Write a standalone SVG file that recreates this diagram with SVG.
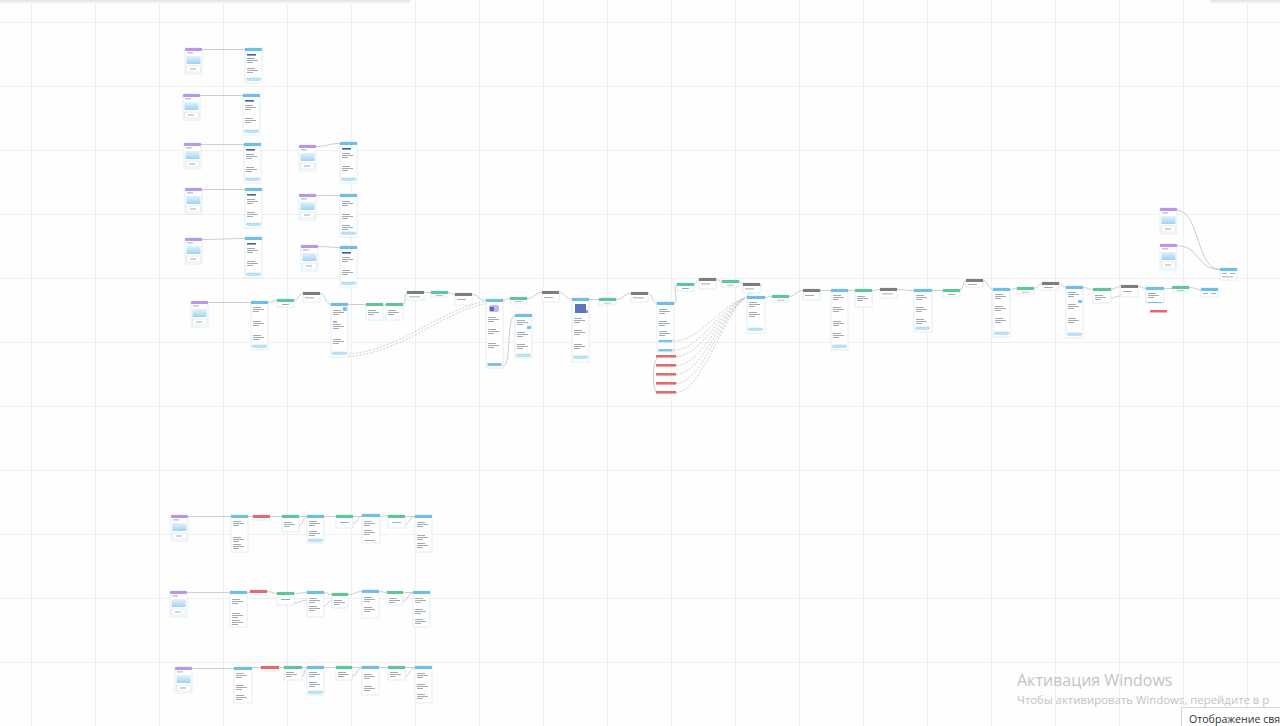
<svg xmlns="http://www.w3.org/2000/svg" width="1280" height="726" viewBox="0 0 1280 726">
<style>
.bd{fill:#fff;stroke:#cfe0ec;stroke-width:0.6}
.hp{fill:#b796ee}
.hb{fill:#6dbfeb}
.hg{fill:#5cc896}
.hk{fill:#7d7d7d}
.hr{fill:#e46b6b}
.tx{fill:#8c959e}
.dk{fill:#3d5fa8}
.pl{fill:#c4e5f8;stroke:#7cc3ea;stroke-width:0.4}
.c{fill:none;stroke:#b9b9b9;stroke-width:0.7}
.d{stroke-dasharray:2 1.5}
.wm{font-family:"Open Sans","Noto Sans",sans-serif;fill:#c3c3c3}
</style>
<defs>
<pattern id="grid" patternUnits="userSpaceOnUse" x="31" y="22" width="64" height="64">
<path d="M0.5 0V64M0 0.5H64" fill="none" stroke="#f0f0f0" stroke-width="1"/>
</pattern>
<linearGradient id="lb" x1="0" y1="0" x2="0" y2="1">
<stop offset="0" stop-color="#e3f3fc"/><stop offset="1" stop-color="#9fd2f0"/>
</linearGradient>
<linearGradient id="sh" x1="0" y1="0" x2="0" y2="1">
<stop offset="0" stop-color="#e2e2e2"/><stop offset="1" stop-color="#fdfdfd"/>
</linearGradient>
<g id="s1" class="tx"><rect x="2" y="0" width="8" height="0.8"/><rect x="2" y="2" width="11" height="0.8"/><rect x="2" y="4" width="6" height="0.8"/></g>
<g id="pill"><rect class="pl" x="1.5" y="0" width="14" height="2.4" rx="1"/></g>
<g id="trig">
<rect class="bd" width="17" height="26" rx="1"/>
<rect class="hp" width="17" height="3" rx="0.8"/>
<rect class="tx" x="2" y="4.5" width="6" height="0.8"/>
<rect fill="url(#lb)" x="1.5" y="8" width="14" height="8"/>
<rect class="bd" x="1.5" y="18" width="14" height="6"/>
<rect class="tx" x="5" y="20.6" width="6" height="0.8"/>
</g>
</defs>
<rect width="1280" height="726" fill="#fefefe"/>
<rect width="1280" height="726" fill="url(#grid)"/>
<rect x="0" y="0" width="410" height="4" fill="url(#sh)"/>
<rect x="1210" y="0" width="70" height="4" fill="url(#sh)"/>

<g id="connectors">
<path class="c" d="M202 49.5H245M199 95.5H243M201 144.5H244M202 189.5H245M202 239.5C224 239.5 224 238.5 245 238.5M316 146.5C328 146.5 328 143.5 340 143.5M316 195.5H340M318 246.5C329 246.5 329 247.5 340 247.5"/>
<path class="c" d="M208 302.5H251M268 302.5C272 302.5 273 300.5 277 300.5M294 300.5C299 300.5 298 293.5 303 293.5M320 293.5C326 293.5 325 304.5 331 304.5M348 304.5H366M383 304.5H386M403 304.5C406 304.5 404 292.5 407 292.5M424 292.5H431M448 292.5C451 292.5 452 294.5 455 294.5M472 294.5C479 294.5 479 300.5 486 300.5"/>
<path class="c d" d="M349 354C400 350 440 310 486 301M349 356.5C402 352.5 442 312.5 486 303.5"/>
<path class="c" d="M503 366C512 366 506 316 515 316M503 300.5C506 300.5 507 298.5 510 298.5M527 298.5C534 298.5 535 292.5 542 292.5M559 292.5C565 292.5 566 299.5 572 299.5M589 299.5H599M616 299.5C623 299.5 624 293.5 631 293.5M648 293.5C652 293.5 653 303.5 657 303.5M674 303.5C679 303.5 672 284.5 677 284.5M694 284.5C697 284.5 696 279.5 699 279.5M716 279.5C719 279.5 719 281.5 722 281.5M739 281.5C741 281.5 741 284.5 743 284.5M760 284.5C768 284.5 741 297.5 747 297.5"/>
<path class="c d" d="M674 341C700 341 722 304 745 298M674 350C700 350 722 306 745 298M676 356.5C702 356.5 722 308 745 298M676 365.5C702 365.5 722 310 745 298M676 374.5C702 374.5 722 312 745 298M676 383.5C702 383.5 722 314 745 298M676 392.5C702 392.5 722 316 745 298"/>
<path class="c" d="M658 358C652 360 652 392 658 394"/>
<path class="c" d="M764 297.5C768 297.5 768 296.5 772 296.5M789 296.5C796 296.5 796 290.5 803 290.5M820 290.5H831M848 290.5H855M872 290.5C876 290.5 876 289.5 880 289.5M897 289.5C905 289.5 906 290.5 914 290.5M931 290.5H943M960 290.5C963 290.5 963 280.5 966 280.5M983 280.5C988 280.5 988 289.5 993 289.5M1010 289.5C1013 289.5 1014 288.5 1017 288.5M1034 288.5C1038 288.5 1038 283.5 1042 283.5M1059 283.5C1062 283.5 1063 287.5 1066 287.5M1083 287.5C1088 287.5 1088 289.5 1093 289.5M1110 289.5C1115 289.5 1116 286.5 1121 286.5M1110 298C1115 298 1116 296 1121 296M1138 286.5C1142 286.5 1142 288.5 1146 288.5M1163 288.5H1172M1189 287.5C1195 287.5 1195 289.5 1201 289.5M1176 210C1200 210 1196 269.5 1220 269.5M1176 245.5C1200 245.5 1196 269.5 1220 269.5"/>
<path class="c" d="M188 516.5H231M248 516.5H253M270 516.5H282M299 516.5H307M299 526C303 526 303 516.5 307 516.5M324 516.5H336M353 516.5H362M353 524C357 524 358 516 362 516M380 516H388M405 516.5H415M405 524C410 524 410 516.5 415 516.5"/>
<path class="c" d="M187 592.5H230M247 592.5H250M267 591.5C272 591.5 272 593.5 277 593.5M294 593.5C300 593.5 301 592.5 307 592.5M294 603C300 603 301 600 307 600M324 592.5C328 592.5 328 594.5 332 594.5M324 606C328 606 328 600 332 600M348 594.5C355 594.5 355 591.5 362 591.5M379 591.5C383 591.5 383 592.5 387 592.5M403 592.5H413M403 601C408 601 408 593 413 593"/>
<path class="c" d="M192 668.5H234M252 667.5H261M279 667.5H284M302 667.5H307M302 676C305 676 304 668 307 668M324 667.5H336M352 667.5H362M352 676C357 676 357 668 362 668M379 667.5H388M405 667.5H415M405 676C410 676 410 668 415 668"/>
</g>

<!-- top-left triggers and messages -->
<g id="T1" transform="translate(185,48)"><use href="#trig"/></g>
<g id="B1" transform="translate(245,48)"><rect class="bd" width="17" height="35"/><rect class="hb" width="17" height="3"/><rect class="dk" x="2" y="6" width="9" height="1.6"/><use href="#s1" y="10"/><use href="#s1" y="20"/><use href="#pill" y="30"/></g>
<g id="T2" transform="translate(183,94)"><use href="#trig"/></g>
<g id="B2" transform="translate(243,94)"><rect class="bd" width="17" height="41"/><rect class="hb" width="17" height="3"/><rect class="dk" x="2" y="6" width="9" height="1.6"/><use href="#s1" y="11"/><use href="#s1" y="24"/><use href="#pill" y="36"/></g>
<g id="T3" transform="translate(184,143)"><use href="#trig"/></g>
<g id="B3" transform="translate(244,143)"><rect class="bd" width="17" height="40"/><rect class="hb" width="17" height="3"/><rect class="dk" x="2" y="6" width="9" height="1.6"/><use href="#s1" y="11"/><use href="#s1" y="24"/><use href="#pill" y="35"/></g>
<g id="T4" transform="translate(185,188)"><use href="#trig"/></g>
<g id="B4" transform="translate(245,188)"><rect class="bd" width="17" height="40"/><rect class="hb" width="17" height="3"/><rect class="dk" x="2" y="6" width="9" height="1.6"/><use href="#s1" y="11"/><use href="#s1" y="24"/><use href="#pill" y="35"/></g>
<g id="T5" transform="translate(185,238)"><use href="#trig"/></g>
<g id="B5" transform="translate(245,237)"><rect class="bd" width="17" height="41"/><rect class="hb" width="17" height="3"/><rect class="dk" x="2" y="6" width="9" height="1.6"/><use href="#s1" y="11"/><use href="#s1" y="24"/><use href="#pill" y="36"/></g>
<g id="T6" transform="translate(299,145)"><use href="#trig"/></g>
<g id="B6" transform="translate(340,142)"><rect class="bd" width="17" height="41"/><rect class="hb" width="17" height="3"/><rect class="dk" x="2" y="6" width="9" height="1.6"/><use href="#s1" y="11"/><use href="#s1" y="24"/><use href="#pill" y="36"/></g>
<g id="T7" transform="translate(299,194)"><use href="#trig"/></g>
<g id="B7" transform="translate(340,194)"><rect class="bd" width="17" height="43"/><rect class="hb" width="17" height="3"/><use href="#s1" y="7"/><use href="#s1" y="20"/><use href="#s1" y="31"/><use href="#pill" y="38"/></g>
<g id="T8" transform="translate(301,245)"><use href="#trig"/></g>
<g id="B8" transform="translate(340,246)"><rect class="bd" width="17" height="41"/><rect class="hb" width="17" height="3"/><rect class="dk" x="2" y="6" width="9" height="1.6"/><use href="#s1" y="11"/><use href="#s1" y="24"/><use href="#pill" y="36"/></g>

<!-- main chain -->
<g id="T9" transform="translate(191,301)"><use href="#trig"/></g>
<g id="M1" transform="translate(251,301)"><rect class="bd" width="17" height="49"/><rect class="hb" width="17" height="3"/><use href="#s1" y="6"/><use href="#s1" y="20"/><use href="#s1" y="34"/><use href="#pill" y="44"/></g>
<g id="G1" transform="translate(277,299)"><rect class="bd" width="17" height="8"/><rect class="hg" width="17" height="3"/><rect class="tx" x="5" y="5" width="7" height="0.8"/></g>
<g id="K1" transform="translate(303,292)"><rect class="bd" width="17" height="10"/><rect class="hk" width="17" height="3"/><rect class="tx" x="2" y="5.5" width="9" height="0.8"/></g>
<g id="M2" transform="translate(331,303)"><rect class="bd" width="17" height="54"/><rect class="hb" width="17" height="3"/><rect x="12" y="4" width="4" height="4" fill="#7cc3ea"/><use href="#s1" y="7"/><rect x="2" y="18" width="4" height="1.5" fill="#c77ad8"/><use href="#s1" y="21"/><use href="#s1" y="36"/><use href="#pill" y="49"/></g>
<g id="G2" transform="translate(366,303)"><rect class="bd" width="17" height="17"/><rect class="hg" width="17" height="3"/><use href="#s1" y="7"/></g>
<g id="G3" transform="translate(386,303)"><rect class="bd" width="17" height="17"/><rect class="hg" width="17" height="3"/><use href="#s1" y="7"/></g>
<g id="K2" transform="translate(407,291)"><rect class="bd" width="17" height="9"/><rect class="hk" width="17" height="3"/><rect class="tx" x="2" y="5.5" width="11" height="0.8"/></g>
<g id="G4" transform="translate(431,291)"><rect class="bd" width="17" height="6"/><rect class="hg" width="17" height="3"/><rect class="tx" x="5" y="4.2" width="7" height="0.6"/></g>
<g id="K3" transform="translate(455,293)"><rect class="bd" width="17" height="12"/><rect class="hk" width="17" height="3"/><rect class="tx" x="2" y="6" width="9" height="0.8"/></g>
<g id="M3" transform="translate(486,299)"><rect class="bd" width="17" height="69"/><rect class="hb" width="17" height="3"/><rect x="3" y="6" width="10" height="7" rx="2" fill="#c9b3ee"/><rect x="4" y="8" width="4" height="4" fill="#4a6fc0"/><use href="#s1" y="18"/><use href="#s1" y="30"/><use href="#s1" y="44"/><rect x="1.5" y="64" width="14" height="3" fill="#7cc3ea"/></g>
<g id="M4" transform="translate(515,314)"><rect class="bd" width="17" height="44"/><rect class="hb" width="17" height="3"/><use href="#s1" y="6"/><rect x="12" y="12" width="4" height="3" fill="#7cc3ea"/><use href="#s1" y="18"/><use href="#s1" y="30"/><use href="#pill" y="40"/></g>
<g id="G5" transform="translate(510,297)"><rect class="bd" width="17" height="6"/><rect class="hg" width="17" height="3"/><rect class="tx" x="5" y="4.2" width="7" height="0.6"/></g>
<g id="K4" transform="translate(542,291)"><rect class="bd" width="17" height="11"/><rect class="hk" width="17" height="3"/><rect class="tx" x="2" y="6" width="9" height="0.8"/></g>
<g id="M5" transform="translate(572,298)"><rect class="bd" width="17" height="64"/><rect class="hb" width="17" height="3"/><rect x="3" y="6" width="11" height="9" fill="#5a78b8"/><rect x="14" y="12" width="2" height="3" fill="#d07ad8"/><use href="#s1" y="20"/><use href="#s1" y="32"/><use href="#s1" y="46"/><use href="#pill" y="58"/></g>
<g id="G6" transform="translate(599,298)"><rect class="bd" width="17" height="7"/><rect class="hg" width="17" height="3"/><rect class="tx" x="5" y="4.8" width="7" height="0.6"/></g>
<g id="K5" transform="translate(631,292)"><rect class="bd" width="17" height="10"/><rect class="hk" width="17" height="3"/><rect class="tx" x="2" y="5.5" width="11" height="0.8"/></g>
<g id="M6" transform="translate(657,302)"><rect class="bd" width="17" height="50"/><rect class="hb" width="17" height="3"/><use href="#s1" y="7"/><use href="#s1" y="19"/><use href="#s1" y="29"/><rect x="1.5" y="38" width="14" height="2.4" fill="#7cc3ea"/><rect x="1.5" y="47" width="14" height="2.4" fill="#7cc3ea"/></g>
<g id="R1" transform="translate(656,355)"><rect class="hr" width="20" height="2.6"/></g>
<g id="R2" transform="translate(656,364)"><rect class="hr" width="20" height="2.6"/></g>
<g id="R3" transform="translate(656,373)"><rect class="hr" width="20" height="2.6"/></g>
<g id="R4" transform="translate(656,382)"><rect class="hr" width="20" height="2.6"/></g>
<g id="R5" transform="translate(656,391)"><rect class="hr" width="20" height="2.6"/></g>
<g id="G7" transform="translate(677,283)"><rect class="bd" width="17" height="8"/><rect class="hg" width="17" height="3"/><rect class="tx" x="5" y="5" width="7" height="0.8"/></g>
<g id="K6" transform="translate(699,278)"><rect class="bd" width="17" height="11"/><rect class="hk" width="17" height="3"/><rect class="tx" x="2" y="5.5" width="9" height="0.8"/></g>
<g id="G8" transform="translate(722,280)"><rect class="bd" width="17" height="7"/><rect class="hg" width="17" height="3"/><rect class="tx" x="5" y="4.8" width="7" height="0.6"/></g>
<g id="K7" transform="translate(743,283)"><rect class="bd" width="17" height="10"/><rect class="hk" width="17" height="3"/><rect class="tx" x="2" y="5.5" width="9" height="0.8"/></g>
<g id="M7" transform="translate(747,296)"><rect class="bd" width="18" height="37"/><rect class="hb" width="18" height="3"/><use href="#s1" y="6"/><use href="#s1" y="16"/><use href="#pill" y="32"/></g>
<g id="G9" transform="translate(772,295)"><rect class="bd" width="17" height="7"/><rect class="hg" width="17" height="3"/><rect class="tx" x="5" y="4.8" width="7" height="0.6"/></g>
<g id="K8" transform="translate(803,289)"><rect class="bd" width="17" height="11"/><rect class="hk" width="17" height="3"/><rect class="tx" x="2" y="6" width="9" height="0.8"/></g>
<g id="M8" transform="translate(831,289)"><rect class="bd" width="17" height="61"/><rect class="hb" width="17" height="3"/><use href="#s1" y="6"/><use href="#s1" y="18"/><use href="#s1" y="32"/><use href="#s1" y="44"/><use href="#pill" y="56"/></g>
<g id="G10" transform="translate(855,289)"><rect class="bd" width="17" height="18"/><rect class="hg" width="17" height="3"/><use href="#s1" y="7"/></g>
<g id="K9" transform="translate(880,288)"><rect class="bd" width="17" height="10"/><rect class="hk" width="17" height="3"/><rect class="tx" x="2" y="5.5" width="11" height="0.8"/></g>
<g id="M9" transform="translate(914,289)"><rect class="bd" width="18" height="43"/><rect class="hb" width="18" height="3"/><use href="#s1" y="6"/><use href="#s1" y="18"/><use href="#s1" y="30"/><use href="#pill" y="38"/></g>
<g id="G11" transform="translate(943,289)"><rect class="bd" width="17" height="8"/><rect class="hg" width="17" height="3"/><rect class="tx" x="5" y="5" width="7" height="0.8"/></g>
<g id="K10" transform="translate(966,279)"><rect class="bd" width="17" height="8"/><rect class="hk" width="17" height="3"/><rect class="tx" x="2" y="5" width="9" height="0.8"/></g>
<g id="M10" transform="translate(993,288)"><rect class="bd" width="17" height="49"/><rect class="hb" width="17" height="3"/><use href="#s1" y="6"/><use href="#s1" y="18"/><use href="#s1" y="30"/><use href="#pill" y="44"/></g>
<g id="G12" transform="translate(1017,287)"><rect class="bd" width="17" height="7"/><rect class="hg" width="17" height="3"/><rect class="tx" x="5" y="4.8" width="7" height="0.6"/></g>
<g id="K11" transform="translate(1042,282)"><rect class="bd" width="17" height="8"/><rect class="hk" width="17" height="3"/><rect class="tx" x="2" y="5" width="9" height="0.8"/></g>
<g id="M11" transform="translate(1066,286)"><rect class="bd" width="17" height="52"/><rect class="hb" width="17" height="3"/><use href="#s1" y="6"/><rect x="12" y="14" width="4" height="3" fill="#7cc3ea"/><use href="#s1" y="18"/><use href="#s1" y="32"/><use href="#pill" y="47"/></g>
<g id="G13" transform="translate(1093,288)"><rect class="bd" width="18" height="15"/><rect class="hg" width="18" height="3"/><use href="#s1" y="7"/></g>
<g id="K12" transform="translate(1121,285)"><rect class="bd" width="17" height="12"/><rect class="hk" width="17" height="3"/><rect class="tx" x="2" y="6" width="9" height="0.8"/></g>
<g id="M12" transform="translate(1146,287)"><rect class="bd" width="18" height="16"/><rect class="hb" width="18" height="3"/><use href="#s1" y="6"/><rect x="1.5" y="15" width="15" height="1" fill="#7cc3ea"/></g>
<g id="R6" transform="translate(1150,310)"><rect class="hr" width="17" height="2.5"/></g>
<g id="G14" transform="translate(1172,286)"><rect class="bd" width="17" height="6"/><rect class="hg" width="17" height="3"/><rect class="tx" x="5" y="4.2" width="7" height="0.6"/></g>
<g id="M13" transform="translate(1201,288)"><rect class="bd" width="17" height="9"/><rect class="hb" width="17" height="3"/><rect class="tx" x="2" y="5" width="5" height="0.8"/><rect class="tx" x="10" y="5" width="5" height="0.8"/></g>
<g id="T10" transform="translate(1160,208)"><use href="#trig"/></g>
<g id="T11" transform="translate(1160,244)"><use href="#trig"/></g>
<g id="M14" transform="translate(1220,268)"><rect class="bd" width="17" height="12"/><rect class="hb" width="17" height="3"/><rect class="tx" x="2" y="5" width="5" height="0.8"/><rect class="tx" x="10" y="5" width="5" height="0.8"/><rect class="tx" x="2" y="8.5" width="11" height="0.8"/></g>

<!-- bottom row A -->
<g id="TA" transform="translate(171,515)"><use href="#trig"/></g>
<g id="BA1" transform="translate(231,515)"><rect class="bd" width="17" height="37"/><rect class="hb" width="17" height="3"/><use href="#s1" y="6"/><use href="#s1" y="22"/><use href="#s1" y="29"/></g>
<g id="RA" transform="translate(253,515)"><rect class="bd" width="17" height="5"/><rect class="hr" width="17" height="3"/></g>
<g id="GA1" transform="translate(282,515)"><rect class="bd" width="17" height="17"/><rect class="hg" width="17" height="3"/><use href="#s1" y="7"/></g>
<g id="BA2" transform="translate(307,515)"><rect class="bd" width="17" height="28"/><rect class="hb" width="17" height="3"/><use href="#s1" y="6"/><use href="#s1" y="16"/><use href="#pill" y="24"/></g>
<g id="GA2" transform="translate(336,515)"><rect class="bd" width="17" height="13"/><rect class="hg" width="17" height="3"/><rect class="tx" x="4" y="7" width="9" height="0.8"/></g>
<g id="BA3" transform="translate(362,514)"><rect class="bd" width="18" height="29"/><rect class="hb" width="18" height="3"/><use href="#s1" y="7"/><use href="#s1" y="16"/><rect class="tx" x="2" y="26" width="11" height="0.8"/></g>
<g id="GA3" transform="translate(388,515)"><rect class="bd" width="17" height="13"/><rect class="hg" width="17" height="3"/><rect class="tx" x="4" y="7" width="9" height="0.8"/></g>
<g id="BA4" transform="translate(415,515)"><rect class="bd" width="17" height="37"/><rect class="hb" width="17" height="3"/><use href="#s1" y="7"/><use href="#s1" y="20"/><use href="#s1" y="28"/></g>

<!-- bottom row B -->
<g id="TB" transform="translate(170,591)"><use href="#trig"/></g>
<g id="BB1" transform="translate(230,591)"><rect class="bd" width="17" height="36"/><rect class="hb" width="17" height="3"/><use href="#s1" y="8"/><use href="#s1" y="22"/><use href="#s1" y="29"/></g>
<g id="RB" transform="translate(250,590)"><rect class="bd" width="17" height="5"/><rect class="hr" width="17" height="3"/></g>
<g id="GB1" transform="translate(277,592)"><rect class="bd" width="17" height="13"/><rect class="hg" width="17" height="3"/><rect class="tx" x="4" y="7" width="9" height="0.8"/></g>
<g id="BB2" transform="translate(307,591)"><rect class="bd" width="17" height="26"/><rect class="hb" width="17" height="3"/><use href="#s1" y="7"/><use href="#s1" y="15"/></g>
<g id="GB2" transform="translate(332,593)"><rect class="bd" width="16" height="15"/><rect class="hg" width="16" height="3"/><use href="#s1" y="7"/></g>
<g id="BB3" transform="translate(362,590)"><rect class="bd" width="17" height="28"/><rect class="hb" width="17" height="3"/><use href="#s1" y="7"/><use href="#s1" y="17"/></g>
<g id="GB3" transform="translate(387,591)"><rect class="bd" width="16" height="14"/><rect class="hg" width="16" height="3"/><use href="#s1" y="7"/></g>
<g id="BB4" transform="translate(413,591)"><rect class="bd" width="17" height="36"/><rect class="hb" width="17" height="3"/><use href="#s1" y="7"/><use href="#s1" y="18"/><use href="#s1" y="28"/></g>

<!-- bottom row C -->
<g id="TC" transform="translate(175,667)"><use href="#trig"/></g>
<g id="BC1" transform="translate(234,667)"><rect class="bd" width="18" height="36"/><rect class="hb" width="18" height="3"/><use href="#s1" y="6"/><use href="#s1" y="18"/><use href="#s1" y="28"/></g>
<g id="RC" transform="translate(261,666)"><rect class="bd" width="18" height="5"/><rect class="hr" width="18" height="3"/></g>
<g id="GC1" transform="translate(284,666)"><rect class="bd" width="18" height="14"/><rect class="hg" width="18" height="3"/><use href="#s1" y="6"/></g>
<g id="BC2" transform="translate(307,666)"><rect class="bd" width="17" height="29"/><rect class="hb" width="17" height="3"/><use href="#s1" y="6"/><use href="#s1" y="16"/><use href="#pill" y="25"/></g>
<g id="GC2" transform="translate(336,666)"><rect class="bd" width="16" height="14"/><rect class="hg" width="16" height="3"/><use href="#s1" y="6"/></g>
<g id="BC3" transform="translate(362,666)"><rect class="bd" width="17" height="29"/><rect class="hb" width="17" height="3"/><use href="#s1" y="8"/><use href="#s1" y="20"/></g>
<g id="GC3" transform="translate(388,666)"><rect class="bd" width="17" height="14"/><rect class="hg" width="17" height="3"/><use href="#s1" y="6"/></g>
<g id="BC4" transform="translate(415,666)"><rect class="bd" width="17" height="37"/><rect class="hb" width="17" height="3"/><use href="#s1" y="7"/><use href="#s1" y="18"/><use href="#s1" y="28"/></g>

<text class="wm" x="1017" y="686" font-size="16">Активация Windows</text>
<text class="wm" x="1017" y="704" font-size="11.4">Чтобы активировать Windows, перейдите в р</text>
<g id="popup">
<rect x="1181.5" y="707.5" width="110" height="30" fill="#ffffff" stroke="#d6d6d6"/>
<text x="1189" y="723" font-family="Open Sans,Noto Sans,sans-serif" font-size="10.6" fill="#333">Отображение свя</text>
</g>
</svg>
